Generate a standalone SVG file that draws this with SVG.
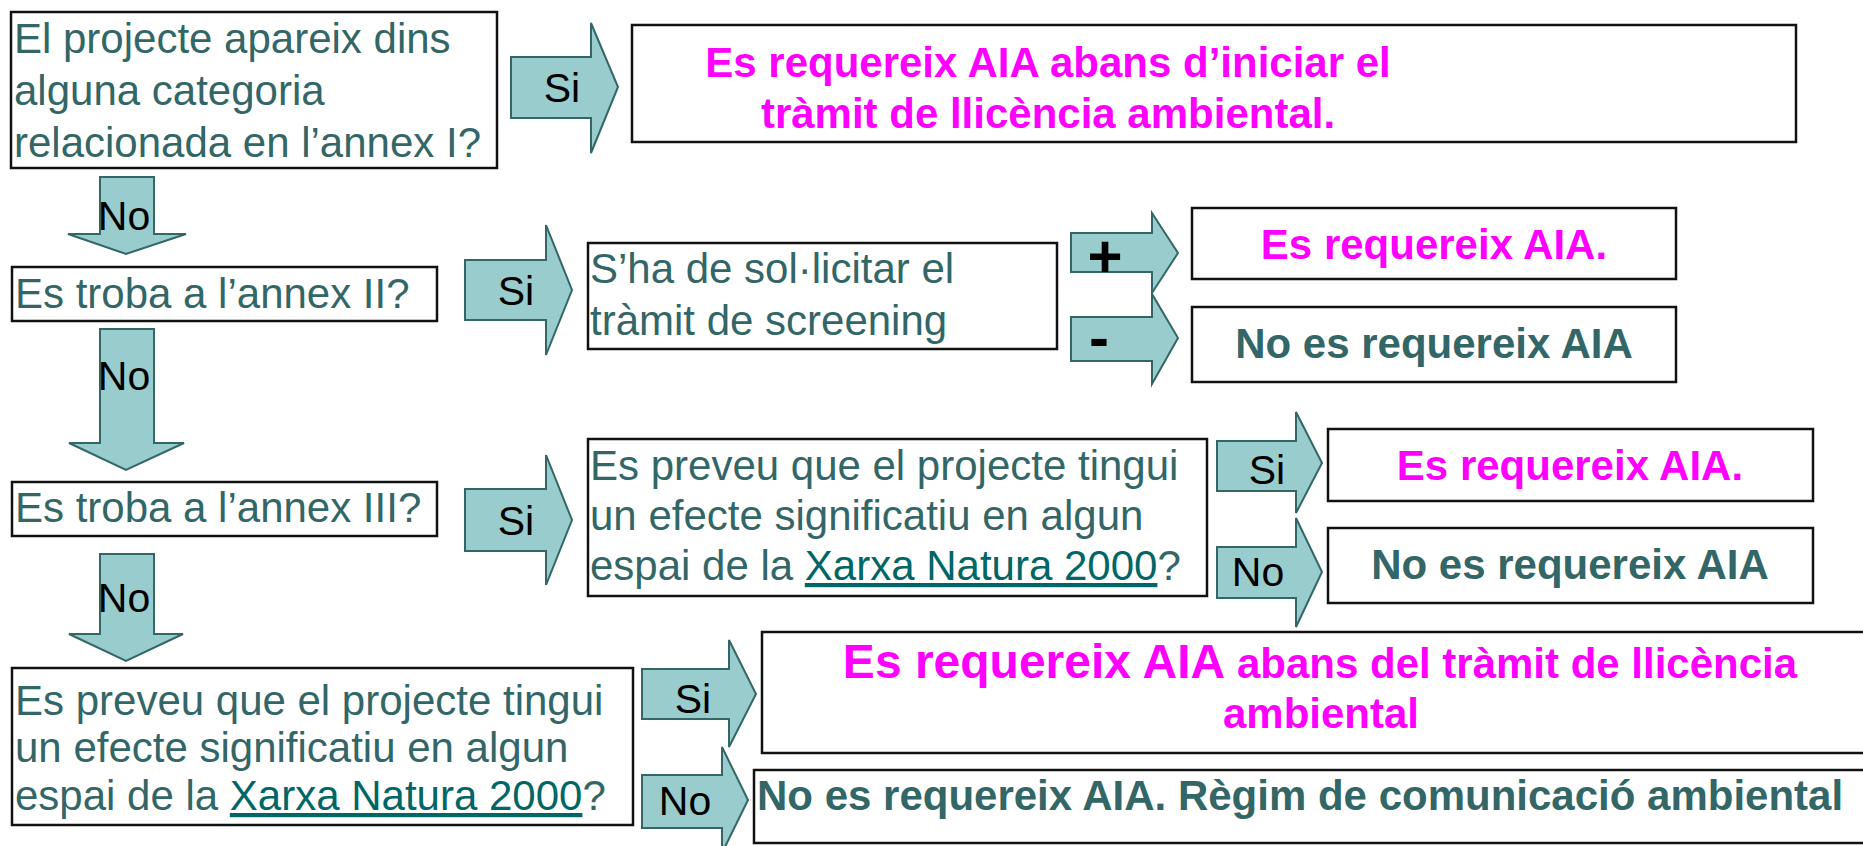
<svg xmlns="http://www.w3.org/2000/svg" width="1863" height="846" viewBox="0 0 1863 846">
<style>
.box{fill:#fff;stroke:#111;stroke-width:2.5}
.arr{fill:#99CCCC;stroke:#336666;stroke-width:2;stroke-linejoin:miter}
text{font-family:"Liberation Sans",Arial,sans-serif}
.q{font-size:42px;fill:#336666}
.lnk{fill:#006666;text-decoration:underline}
.mag{font-size:42px;font-weight:bold;fill:#FF00FF}
.neg{font-size:42px;font-weight:bold;fill:#336666}
.lbl{font-size:41px;fill:#000}
.sg{font-size:60px;font-weight:bold;fill:#000}
</style>
<rect width="1863" height="846" fill="#fff"/>
<g id="connectors">
<g id="si1"><polygon class="arr" points="511,57 591,57 591,23 618,87 591,153 591,118 511,118"/><text class="lbl" x="562" y="102" text-anchor="middle">Si</text></g>
<g id="no1"><polygon class="arr" points="100,177 154,177 154,234 186,234 126,254 68,234 100,234"/><text class="lbl" x="124" y="230" text-anchor="middle">No</text></g>
<g id="si2"><polygon class="arr" points="465,260 546,260 546,225 572,290 546,355 546,320 465,320"/><text class="lbl" x="516" y="305" text-anchor="middle">Si</text></g>
<g id="no2"><polygon class="arr" points="100,329 154,329 154,443 184,443 126,470 69,443 100,443"/><text class="lbl" x="124" y="390" text-anchor="middle">No</text></g>
<g id="plus"><polygon class="arr" points="1071,233 1152,233 1152,213 1178,253 1152,293 1152,272 1071,272"/><text class="sg" x="1105" y="277" text-anchor="middle">+</text></g>
<g id="minus"><polygon class="arr" points="1071,317 1152,317 1152,294 1178,338 1152,384 1152,361 1071,361"/><text class="sg" x="1099" y="358" text-anchor="middle">-</text></g>
<g id="si3"><polygon class="arr" points="465,489 546,489 546,455 572,520 546,585 546,551 465,551"/><text class="lbl" x="516" y="535" text-anchor="middle">Si</text></g>
<g id="no3"><polygon class="arr" points="100,554 154,554 154,634 183,634 126,661 69,634 100,634"/><text class="lbl" x="124" y="612" text-anchor="middle">No</text></g>
<g id="si4"><polygon class="arr" points="1217,441 1296,441 1296,412 1322,463 1296,513 1296,491 1217,491"/><text class="lbl" x="1267" y="484" text-anchor="middle">Si</text></g>
<g id="no4"><polygon class="arr" points="1217,547 1296,547 1296,518 1322,572 1296,627 1296,598 1217,598"/><text class="lbl" x="1258" y="586" text-anchor="middle">No</text></g>
<g id="si5"><polygon class="arr" points="642,669 729,669 729,640 756,694 729,747 729,719 642,719"/><text class="lbl" x="693" y="713" text-anchor="middle">Si</text></g>
<g id="no5"><polygon class="arr" points="642,775 722,775 722,747 748,800 722,853 722,828 642,828"/><text class="lbl" x="685" y="815" text-anchor="middle">No</text></g>
</g>
<g id="nodeA"><rect class="box" x="11" y="12" width="486" height="156"/>
<text class="q" x="14"><tspan x="14" y="53">El projecte apareix dins</tspan><tspan x="14" y="105">alguna categoria</tspan><tspan x="14" y="157">relacionada en l’annex I?</tspan></text></g>
<g id="nodeB"><rect class="box" x="632" y="25" width="1164" height="117"/>
<text class="mag" text-anchor="middle"><tspan x="1048" y="77">Es requereix AIA abans d’iniciar el</tspan><tspan x="1048" y="128">tràmit de llicència ambiental.</tspan></text></g>
<g id="nodeC"><rect class="box" x="12" y="267" width="425" height="54"/>
<text class="q" x="15" y="308">Es troba a l’annex II?</text></g>
<g id="nodeD"><rect class="box" x="588" y="243" width="469" height="106"/>
<text class="q"><tspan x="590" y="283">S’ha de sol·licitar el</tspan><tspan x="590" y="335">tràmit de screening</tspan></text></g>
<g id="nodeE"><rect class="box" x="1192" y="208" width="484" height="71"/>
<text class="mag" x="1434" y="259" text-anchor="middle">Es requereix AIA.</text></g>
<g id="nodeF"><rect class="box" x="1192" y="307" width="484" height="75"/>
<text class="neg" x="1434" y="358" text-anchor="middle">No es requereix AIA</text></g>
<g id="nodeG"><rect class="box" x="12" y="482" width="425" height="54"/>
<text class="q" x="15" y="522">Es troba a l’annex III?</text></g>
<g id="nodeH"><rect class="box" x="588" y="439" width="619" height="157"/>
<text class="q"><tspan x="590" y="480">Es preveu que el projecte tingui</tspan><tspan x="590" y="530">un efecte significatiu en algun</tspan><tspan x="590" y="580">espai de la <tspan class="lnk">Xarxa Natura 2000</tspan>?</tspan></text></g>
<g id="nodeI"><rect class="box" x="1328" y="429" width="485" height="72"/>
<text class="mag" x="1570" y="480" text-anchor="middle">Es requereix AIA.</text></g>
<g id="nodeJ"><rect class="box" x="1328" y="528" width="485" height="75"/>
<text class="neg" x="1570" y="579" text-anchor="middle">No es requereix AIA</text></g>
<g id="nodeK"><rect class="box" x="12" y="668" width="621" height="157"/>
<text class="q"><tspan x="15" y="715">Es preveu que el projecte tingui</tspan><tspan x="15" y="762">un efecte significatiu en algun</tspan><tspan x="15" y="810">espai de la <tspan class="lnk">Xarxa Natura 2000</tspan>?</tspan></text></g>
<g id="nodeL"><rect class="box" x="762" y="632" width="1120" height="121"/>
<text class="mag" x="1320" y="678" text-anchor="middle"><tspan font-size="48">Es requereix AIA</tspan> abans del tràmit de llicència</text>
<text class="mag" x="1321" y="728" text-anchor="middle">ambiental</text></g>
<g id="nodeM"><rect class="box" x="754" y="770" width="1128" height="73"/>
<text class="neg" x="757" y="810" font-size="42.6">No es requereix AIA. Règim de comunicació ambiental</text></g>
</svg>
